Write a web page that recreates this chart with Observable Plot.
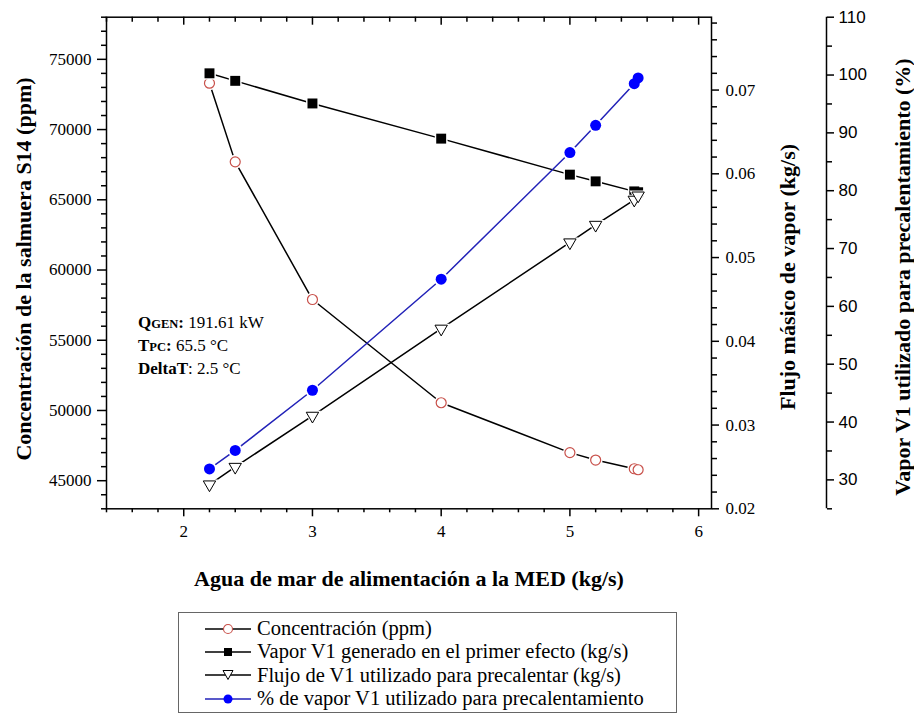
<!DOCTYPE html>
<html>
<head>
<meta charset="utf-8">
<script src="https://cdn.jsdelivr.net/npm/d3@7"></script>
<script src="https://cdn.jsdelivr.net/npm/@observablehq/plot@0.6"></script>
<style>
  body { margin: 0; background: #fff; }
  #wrap { position: relative; width: 914px; height: 714px; font-family: "Liberation Serif", "Times New Roman", serif; color: #000; }
  #legend { position: absolute; left: 178px; top: 612px; width: 499px; height: 101px; border: 1px solid #666; box-sizing: border-box; padding-top: 4px; }
  .lrow { display: flex; align-items: center; height: 23.3px; padding-left: 26px; font-family: "Liberation Serif", "Times New Roman", serif; font-size: 20.5px; white-space: nowrap; }
  .lrow svg { flex: none; margin-right: 6px; }
</style>
</head>
<body>
<div id="wrap"></div>
<script>
// ---- data ----
const feed = [2.2, 2.4, 3, 4, 5, 5.2, 5.5, 5.53];                       // Agua de mar de alimentación (kg/s)
const concentracion = [73300, 67700, 57900, 50550, 47000, 46470, 45850, 45780]; // ppm
const vaporV1 = [0.0720, 0.0711, 0.0684, 0.0642, 0.0599, 0.0591, 0.0579, 0.0578]; // kg/s
const flujoPrecal = [0.0229, 0.0250, 0.0311, 0.0415, 0.0518, 0.0539, 0.0569, 0.0574]; // kg/s
const porcentaje = [31.9, 35.1, 45.5, 64.7, 86.6, 91.3, 98.5, 99.5];      // %

const seriesNames = [
  "Concentración (ppm)",
  "Vapor V1 generado en el primer efecto (kg/s)",
  "Flujo de V1 utilizado para precalentar (kg/s)",
  "% de vapor V1 utilizado para precalentamiento"
];

const xTicks = [2, 3, 4, 5, 6];
const concTicks = [45000, 50000, 55000, 60000, 65000, 70000, 75000];
const flowTicks = [0.02, 0.03, 0.04, 0.05, 0.06, 0.07];
const pctTicks = [30, 40, 50, 60, 70, 80, 90, 100, 110];

const xDom = [1.4, 6.1];
const yDom = [43000, 78000];
const flowDom = [0.02, 0.0787];
const pctDom = [25, 110];

const xLabel = "Agua de mar de alimentación a la MED (kg/s)";
const yLabel = "Concentración de la salmuera S14 (ppm)";
const flowLabel = "Flujo másico de vapor (kg/s)";
const pctLabel = "Vapor V1 utilizado para precalentamiento (%)";

// ---- secondary axes mapped onto the primary y scale ----
const lin = (a) => v => yDom[0] + (v - a[0]) / (a[1] - a[0]) * (yDom[1] - yDom[0]);
const inv = (a) => v => a[0] + (v - yDom[0]) / (yDom[1] - yDom[0]) * (a[1] - a[0]);
const fromFlow = lin(flowDom), toFlow = inv(flowDom);
const fromPct = lin(pctDom), toPct = inv(pctDom);

const rows = feed.map((x, i) => ({
  x,
  conc: concentracion[i],
  vapor: fromFlow(vaporV1[i]),
  flujo: fromFlow(flujoPrecal[i]),
  pct: fromPct(porcentaje[i])
}));

const xMinor = d3.range(14, 61, 2).map(d => d / 10).filter(d => !xTicks.includes(d));
const concMinor = d3.range(43000, 78001, 1000).filter(d => d % 5000 !== 0);
const flowMinor = d3.range(20, 79, 2).filter(d => d % 10 !== 0).map(d => d / 1000);
const pctMinor = d3.range(25, 111, 5).filter(d => d % 10 !== 0);

const triDown = {
  draw(ctx, size) {
    const y = Math.sqrt(size / (3 * Math.sqrt(3)));
    ctx.moveTo(0, 2 * y);
    ctx.lineTo(-Math.sqrt(3) * y, -y);
    ctx.lineTo(Math.sqrt(3) * y, -y);
    ctx.closePath();
  }
};

const SERIF = "Liberation Serif, Times New Roman, serif";
const SANS = "Liberation Sans, Arial, sans-serif";
const RED = "#c8504a", BLUE = "#0000ff", BLUELINE = "#2222b8";
const W = 914, H = 600;
const frameLeft = 106, frameRight = 711, frameTop = 16.7, frameBottom = 508.3;
const pctOffset = 115;
const TITLE = 22;

const plot = Plot.plot({
  width: W,
  height: H,
  marginLeft: frameLeft,
  marginRight: W - frameRight,
  marginTop: frameTop,
  marginBottom: H - frameBottom,
  style: { fontFamily: SERIF, fontSize: "17px", color: "#000", background: "#fff" },
  x: { domain: xDom, label: null },
  y: { domain: yDom, label: null },
  marks: [
    Plot.frame({ stroke: "#000", strokeWidth: 1.5 }),
    // bottom axis
    Plot.axisX(xTicks, { anchor: "bottom", tickSize: 8, tickPadding: 8, strokeWidth: 1.5, label: null,
      fontFamily: SERIF, fontSize: 17, tickFormat: d => String(d) }),
    Plot.axisX(xMinor, { anchor: "bottom", tickSize: 4, strokeWidth: 1.5, fill: "none", label: null }),
    // top ticks (inward)
    Plot.axisX(xTicks, { anchor: "bottom", frameAnchor: "top", tickSize: 8, strokeWidth: 1.5, fill: "none", label: null }),
    Plot.axisX(xMinor, { anchor: "bottom", frameAnchor: "top", tickSize: 5, strokeWidth: 1.5, fill: "none", label: null }),
    // left axis
    Plot.axisY(concTicks, { anchor: "left", tickSize: 9, tickPadding: 6, strokeWidth: 1.5, label: null,
      fontFamily: SERIF, fontSize: 17, tickFormat: d => String(d) }),
    Plot.axisY(concMinor, { anchor: "left", tickSize: 5, strokeWidth: 1.5, fill: "none", label: null }),
    // flow axis (right of frame)
    Plot.axisY(flowTicks.map(fromFlow), { anchor: "right", tickSize: 7, tickPadding: 7, strokeWidth: 1.5, label: null,
      fontFamily: SERIF, fontSize: 17, tickFormat: d => d3.format(".2f")(toFlow(d)) }),
    Plot.axisY(flowMinor.map(fromFlow), { anchor: "right", tickSize: 5, strokeWidth: 1.5, fill: "none", label: null }),
    // percent axis (offset)
    Plot.ruleX([xDom[1]], { dx: pctOffset, y1: yDom[0], y2: yDom[1], stroke: "#000", strokeWidth: 1.5 }),
    Plot.axisY(pctTicks.map(fromPct), { anchor: "right", dx: pctOffset, tickSize: 7, tickPadding: 5, strokeWidth: 1.5, label: null,
      fontFamily: SANS, fontSize: 17, tickFormat: d => String(Math.round(toPct(d))) }),
    Plot.axisY(pctMinor.map(fromPct), { anchor: "right", dx: pctOffset, tickSize: 5, strokeWidth: 1.5, fill: "none", label: null }),
    // axis titles
    Plot.text([xLabel], { text: d => d, frameAnchor: "bottom", textAnchor: "middle", lineAnchor: "middle", dy: 70,
      fontFamily: SERIF, fontWeight: "bold", fontSize: TITLE }),
    Plot.text([yLabel], { text: d => d, frameAnchor: "left", textAnchor: "middle", lineAnchor: "middle", rotate: -90, dx: -83, dy: 6,
      fontFamily: SERIF, fontWeight: "bold", fontSize: TITLE }),
    Plot.text([flowLabel], { text: d => d, frameAnchor: "right", textAnchor: "middle", lineAnchor: "middle", rotate: -90, dx: 76, dy: 14,
      fontFamily: SERIF, fontWeight: "bold", fontSize: TITLE }),
    Plot.text([pctLabel], { text: d => d, frameAnchor: "right", textAnchor: "middle", lineAnchor: "middle", rotate: -90, dx: 191, dy: 14,
      fontFamily: SERIF, fontWeight: "bold", fontSize: TITLE }),
    // series 1: concentración
    Plot.line(rows, { x: "x", y: "conc", stroke: "#000", strokeWidth: 1.5 }),
    Plot.dot(rows, { x: "x", y: "conc", r: 7, fill: "#fff", stroke: "none" }),
    Plot.dot(rows, { x: "x", y: "conc", r: 5, fill: "#fff", stroke: RED, strokeWidth: 1.2 }),
    // series 2: vapor V1
    Plot.line(rows, { x: "x", y: "vapor", stroke: "#000", strokeWidth: 1.5 }),
    Plot.dot(rows, { x: "x", y: "vapor", symbol: "square", r: 7.2, fill: "#fff", stroke: "none" }),
    Plot.dot(rows, { x: "x", y: "vapor", symbol: "square", r: 5.6, fill: "#000", stroke: "none" }),
    // series 3: flujo precalentar
    Plot.line(rows, { x: "x", y: "flujo", stroke: "#000", strokeWidth: 1.5 }),
    Plot.dot(rows, { x: "x", y: "flujo", symbol: triDown, r: 6.4, fill: "#fff", stroke: "none" }),
    Plot.dot(rows, { x: "x", y: "flujo", symbol: triDown, r: 4.6, fill: "#fff", stroke: "#000", strokeWidth: 1 }),
    // series 4: porcentaje
    Plot.line(rows, { x: "x", y: "pct", stroke: BLUELINE, strokeWidth: 1.5 }),
    Plot.dot(rows, { x: "x", y: "pct", r: 7.3, fill: "#fff", stroke: "none" }),
    Plot.dot(rows, { x: "x", y: "pct", r: 5.5, fill: BLUE, stroke: "none" })
  ]
});

document.getElementById("wrap").appendChild(plot);

// annotation block
const svg = d3.select(plot);
const ann = svg.append("g")
  .attr("font-family", SERIF).attr("font-size", 17).attr("fill", "#000").attr("text-anchor", "start");
const annX = frameLeft + 32;
const l1 = ann.append("text").attr("x", annX).attr("y", 328);
l1.append("tspan").attr("font-weight", "bold").text("Q");
l1.append("tspan").attr("font-weight", "bold").attr("font-size", 12.5).text("GEN");
l1.append("tspan").attr("font-weight", "bold").text(":");
l1.append("tspan").text(" 191.61 kW");
const l2 = ann.append("text").attr("x", annX).attr("y", 351);
l2.append("tspan").attr("font-weight", "bold").text("T");
l2.append("tspan").attr("font-weight", "bold").attr("font-size", 12.5).text("PC");
l2.append("tspan").attr("font-weight", "bold").text(":");
l2.append("tspan").text(" 65.5 °C");
const l3 = ann.append("text").attr("x", annX).attr("y", 374);
l3.append("tspan").attr("font-weight", "bold").text("DeltaT");
l3.append("tspan").text(": 2.5 °C");

// legend
const legend = d3.select("#wrap").append("div").attr("id", "legend");
const styles = [
  { line: "#000", kind: "circle", fill: "#fff", stroke: RED },
  { line: "#000", kind: "square", fill: "#000", stroke: "none" },
  { line: "#000", kind: "tri", fill: "#fff", stroke: "#000" },
  { line: BLUELINE, kind: "circle", fill: BLUE, stroke: "none" }
];
seriesNames.forEach((name, i) => {
  const s = styles[i];
  const row = legend.append("div").attr("class", "lrow");
  const sv = row.append("svg").attr("width", 46).attr("height", 14);
  sv.append("line").attr("x1", 0).attr("x2", 46).attr("y1", 7).attr("y2", 7).attr("stroke", s.line).attr("stroke-width", 1.5);
  if (s.kind === "circle") sv.append("circle").attr("cx", 23).attr("cy", 7).attr("r", 4.5).attr("fill", s.fill).attr("stroke", s.stroke).attr("stroke-width", 1.1);
  if (s.kind === "square") sv.append("rect").attr("x", 19).attr("y", 3).attr("width", 8).attr("height", 8).attr("fill", "#000");
  if (s.kind === "tri") sv.append("path").attr("d", "M18,2.5L28,2.5L23,11.5Z").attr("fill", "#fff").attr("stroke", "#000").attr("stroke-width", 1);
  row.append("span").text(name);
});
</script>
</body>
</html>
